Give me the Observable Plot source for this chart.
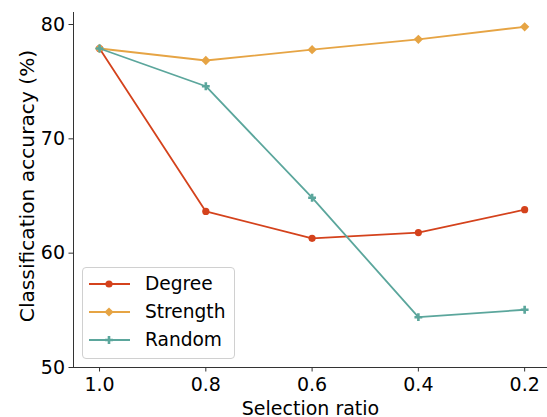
<!DOCTYPE html>
<html>
<head>
<meta charset="utf-8">
<script src="https://cdn.jsdelivr.net/npm/d3@7"></script>
<script src="https://cdn.jsdelivr.net/npm/@observablehq/plot@0.6"></script>
<style>
  html, body { margin: 0; padding: 0; background: #fff; }
  #wrap { position: relative; width: 547px; height: 417px; font-family: "DejaVu Sans", sans-serif; }
  #wrap svg.plot { position: absolute; left: 0; top: 0; }
  #legend { position: absolute; left: 82px; top: 267px; width: 151px; height: 90px;
    border: 1px solid #d0d0d0; border-radius: 4px; background: rgba(255,255,255,0.8);
    font-size: 18.6px; color: #000; }
  #legend .row { position: absolute; left: 0; height: 20px; display: flex; align-items: center; }
  #legend .row span { line-height: 20px; white-space: nowrap; }
</style>
</head>
<body>
<div id="wrap"></div>
<script>
const ratios = [1.0, 0.8, 0.6, 0.4, 0.2];
const tickLabels = ["1.0", "0.8", "0.6", "0.4", "0.2"];
const degree   = [77.9, 63.65, 61.3, 61.8, 63.8];
const strength = [77.9, 76.85, 77.8, 78.7, 79.8];
const random   = [77.9, 74.6, 64.85, 54.4, 55.05];
const seriesNames = ["Degree", "Strength", "Random"];
const seriesColors = ["#d4421c", "#e6a444", "#5ba69c"];
const seriesSymbols = ["circle", "diamond2", "cross"];
const seriesValues = [degree, strength, random];
const yTicks = [50, 60, 70, 80];
const xDomain = [1.049, 0.157];
const yDomain = [50, 81.05];
const yLabel = "Classification accuracy (%)";
const xLabel = "Selection ratio";
const symbolR = {circle: 3.6, diamond2: 4.2, cross: 3.3};

const data = [];
seriesNames.forEach((name, i) => {
  ratios.forEach((r, j) => data.push({series: name, ratio: r, acc: seriesValues[i][j]}));
});

const marks = [
  Plot.ruleX([xDomain[0]], {stroke: "#333", strokeWidth: 1}),
  Plot.ruleY([yDomain[0]], {stroke: "#333", strokeWidth: 1}),
  Plot.axisX({ticks: ratios, tickFormat: (d) => tickLabels[ratios.indexOf(d)], tickSize: 4.5, tickPadding: 5,
    stroke: "#333", fill: "#000", label: xLabel, labelAnchor: "center", labelArrow: "none", labelOffset: 47}),
  Plot.axisY({ticks: yTicks, tickSize: 4.5, tickPadding: 4, stroke: "#333", fill: "#000", label: null}),
  Plot.text([yLabel], {frameAnchor: "left", text: d => d, rotate: -90, lineAnchor: "top", textAnchor: "middle",
    dx: -54, dy: -4, fontSize: 20.2, fill: "#000"})
];
seriesNames.forEach((name, i) => {
  const d = data.filter(e => e.series === name);
  marks.push(Plot.line(d, {x: "ratio", y: "acc", stroke: seriesColors[i], strokeWidth: 1.8}));
  marks.push(Plot.dot(d, {x: "ratio", y: "acc", fill: seriesColors[i], symbol: () => seriesSymbols[i], r: symbolR[seriesSymbols[i]], stroke: "none"}));
});

const chart = Plot.plot({
  width: 547, height: 417,
  marginLeft: 73, marginRight: 0, marginTop: 12, marginBottom: 50,
  x: {domain: xDomain, type: "linear"},
  y: {domain: yDomain},
  style: {fontFamily: "DejaVu Sans", fontSize: "19px", color: "#000", background: "transparent", overflow: "visible"},
  marks
});
chart.classList.add("plot");
const wrap = document.getElementById("wrap");
wrap.appendChild(chart);

// Legend
const legend = document.createElement("div");
legend.id = "legend";
const sym = {
  circle: (c) => `<circle cx="20" cy="10" r="3.6" fill="${c}"/>`,
  diamond2: (c) => `<path d="M20,5.4L24.6,10L20,14.6L15.4,10Z" fill="${c}"/>`,
  cross: (c) => `<path d="M18.7,6.1h2.6v2.6h2.6v2.6h-2.6v2.6h-2.6v-2.6h-2.6v-2.6h2.6Z" fill="${c}"/>`
};
seriesNames.forEach((name, i) => {
  const row = document.createElement("div");
  row.className = "row";
  row.style.top = (5.5 + i * 28.4) + "px";
  row.innerHTML = `<svg width="41" height="20" style="margin-left:6px"><line x1="0" x2="41" y1="10" y2="10" stroke="${seriesColors[i]}" stroke-width="1.8"/>${sym[seriesSymbols[i]](seriesColors[i])}</svg><span style="margin-left:15px">${name}</span>`;
  legend.appendChild(row);
});
wrap.appendChild(legend);
</script>
</body>
</html>
